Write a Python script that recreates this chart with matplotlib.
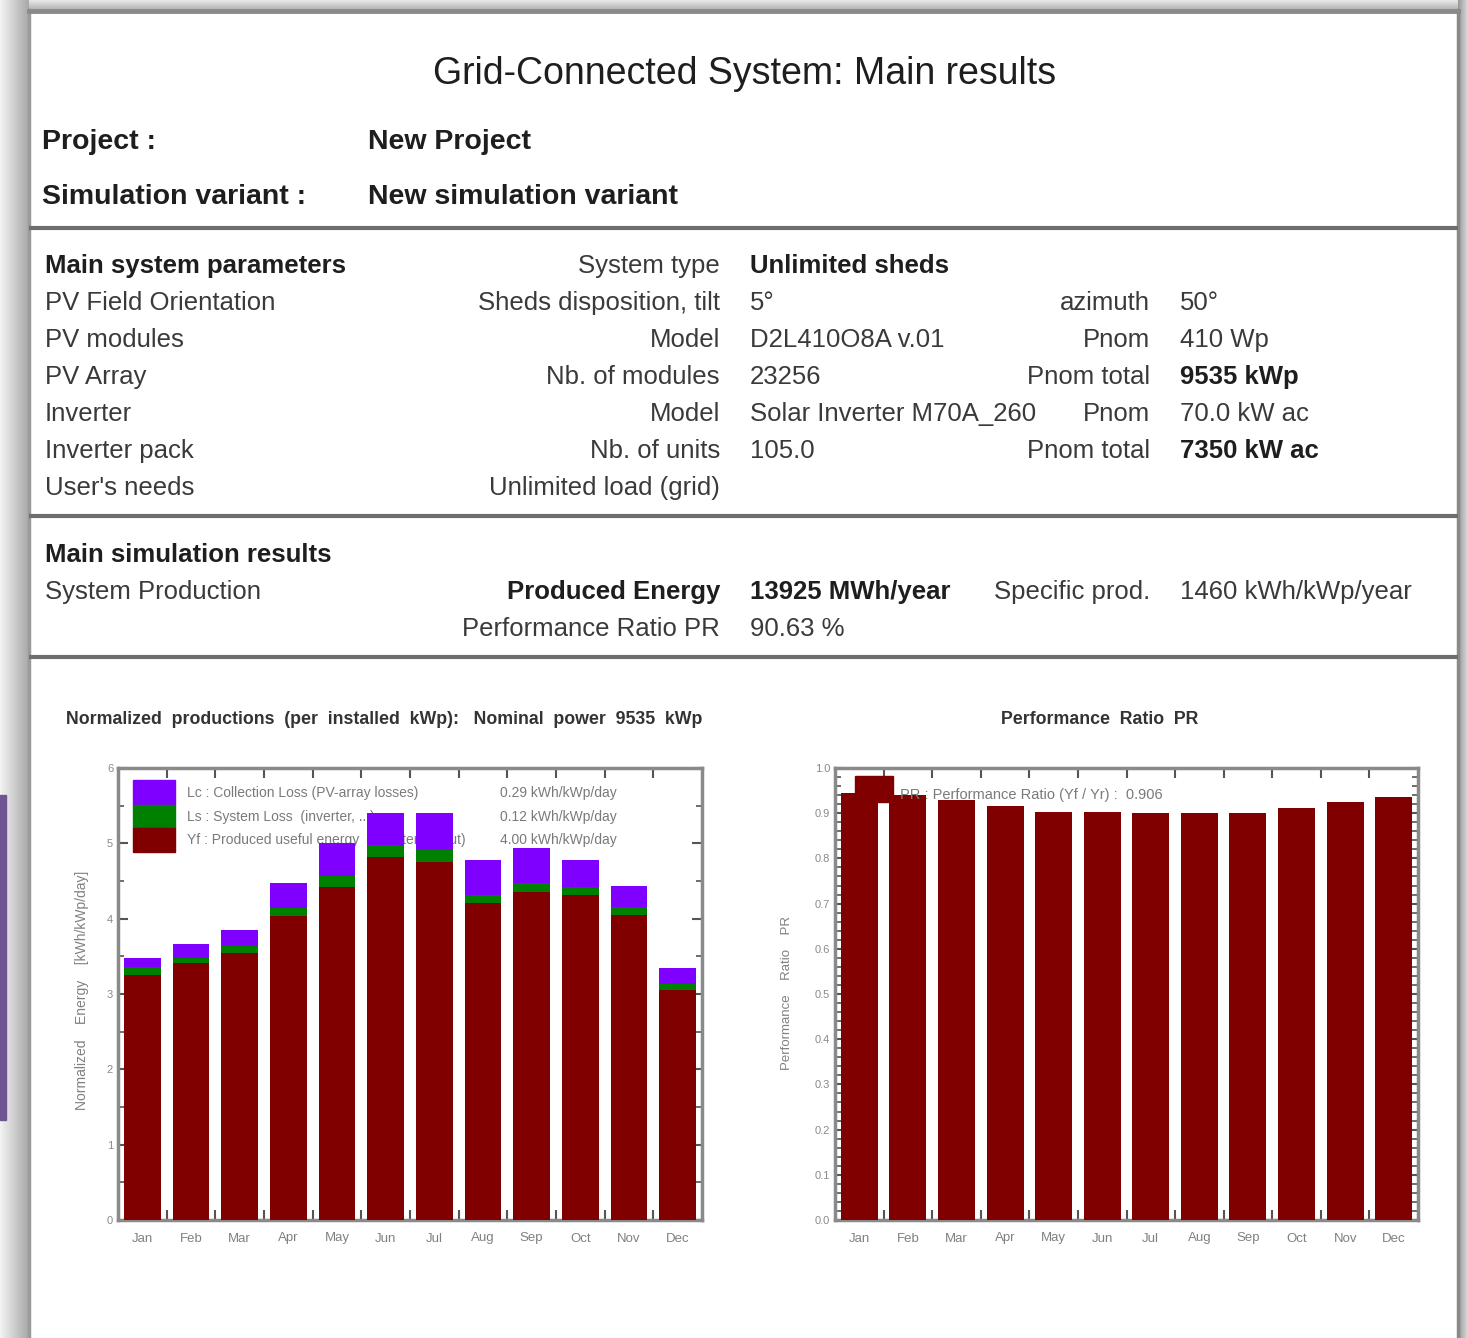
import matplotlib
matplotlib.use('Agg')
import matplotlib.pyplot as plt
import numpy as np
from matplotlib.patches import Rectangle
from matplotlib.ticker import MultipleLocator, FixedLocator

plt.rcParams['font.family'] = ['Liberation Sans', 'DejaVu Sans']

months = ['Jan', 'Feb', 'Mar', 'Apr', 'May', 'Jun', 'Jul', 'Aug', 'Sep', 'Oct', 'Nov', 'Dec']
yf = [3.25, 3.41, 3.55, 4.04, 4.42, 4.82, 4.75, 4.21, 4.36, 4.32, 4.05, 3.05]   # produced useful energy
ls = [0.11, 0.07, 0.09, 0.10, 0.15, 0.16, 0.16, 0.11, 0.12, 0.10, 0.11, 0.08]   # system loss
lc = [0.12, 0.19, 0.21, 0.34, 0.43, 0.42, 0.49, 0.46, 0.46, 0.36, 0.28, 0.22]   # collection loss
pr = [0.945, 0.940, 0.929, 0.916, 0.903, 0.903, 0.901, 0.901, 0.901, 0.912, 0.925, 0.936]

legend_left = ['Lc : Collection Loss (PV-array losses)',
               'Ls : System Loss  (inverter, ...)',
               'Yf : Produced useful energy  (inverter output)']
legend_left_vals = ['0.29 kWh/kWp/day', '0.12 kWh/kWp/day', '4.00 kWh/kWp/day']
legend_right = 'PR : Performance Ratio (Yf / Yr) :  0.906'

param_labels = ['', 'PV Field Orientation', 'PV modules', 'PV Array', 'Inverter', 'Inverter pack', "User's needs"]
param_keys = ['System type', 'Sheds disposition, tilt', 'Model', 'Nb. of modules', 'Model', 'Nb. of units',
              'Unlimited load (grid)']
param_vals = ['Unlimited sheds', '5°', 'D2L410O8A v.01', '23256', 'Solar Inverter M70A_260', '105.0', '']
param_keys2 = ['', 'azimuth', 'Pnom', 'Pnom total', 'Pnom', 'Pnom total', '']
param_vals2 = ['', '50°', '410 Wp', '9535 kWp', '70.0 kW ac', '7350 kW ac', '']
bold_vals = {'Unlimited sheds', '9535 kWp', '7350 kW ac'}

C_YF = '#800000'
C_LS = '#008000'
C_LC = '#8000ff'
TXT = '#3a3a3a'
DARK = '#1e1e1e'
FS = 18.5   # body text size

W, H = 1468, 1338
fig = plt.figure(figsize=(W / 100, H / 100), dpi=100)
fig.patch.set_facecolor('white')

# background axes in pixel coordinates
bg = fig.add_axes([0, 0, 1, 1])
bg.set_xlim(0, W)
bg.set_ylim(H, 0)
bg.axis('off')

# page shadow
grad = np.linspace(0.95, 0.66, 30).reshape(1, -1)
bg.imshow(grad, extent=(0, 29, H, 0), cmap='gray', vmin=0, vmax=1, aspect='auto', zorder=0)
grad_t = np.linspace(0.9, 0.7, 10).reshape(-1, 1)
bg.imshow(grad_t, extent=(29, W, 10, 0), cmap='gray', vmin=0, vmax=1, aspect='auto', zorder=0)
grad_r = np.linspace(0.6, 0.85, 10).reshape(1, -1)
bg.imshow(grad_r, extent=(1458, W, H, 0), cmap='gray', vmin=0, vmax=1, aspect='auto', zorder=0)
bg.add_patch(Rectangle((0, 795), 6, 325, color='#6f5592', zorder=1))

# page border
bg.plot([29, 29], [10, H], color='#9a9a9a', lw=2.5, zorder=2)
bg.plot([29, 1458], [11, 11], color='#8a8a8a', lw=3.5, zorder=2)
bg.plot([1458, 1458], [10, H], color='#8a8a8a', lw=2.5, zorder=2)
for yy in [228, 516, 657]:
    bg.plot([29, 1458], [yy, yy], color='#6e6e6e', lw=3, zorder=2, solid_capstyle='butt')

# header
bg.text(745, 74, 'Grid-Connected System: Main results', fontsize=27, ha='center', va='center', color=DARK)
bg.text(42, 142, 'Project :', fontsize=20.5, weight='bold', va='center', color=DARK)
bg.text(368, 142, 'New Project', fontsize=20.5, weight='bold', va='center', color=DARK)
bg.text(42, 197, 'Simulation variant :', fontsize=20.5, weight='bold', va='center', color=DARK)
bg.text(368, 197, 'New simulation variant', fontsize=20.5, weight='bold', va='center', color=DARK)

# system parameters
bg.text(45, 266, 'Main system parameters', fontsize=FS, weight='bold', va='center', color=DARK)
for i in range(len(param_keys)):
    y = 266 + 37 * i
    if param_labels[i]:
        bg.text(45, y, param_labels[i], fontsize=FS, va='center', color=TXT)
    bg.text(720, y, param_keys[i], fontsize=FS, va='center', ha='right', color=TXT)
    if param_vals[i]:
        bold = param_vals[i] in bold_vals
        bg.text(750, y, param_vals[i], fontsize=FS, va='center', color=DARK if bold else TXT,
                weight='bold' if bold else 'normal')
    if param_keys2[i]:
        bg.text(1150, y, param_keys2[i], fontsize=FS, va='center', ha='right', color=TXT)
    if param_vals2[i]:
        bold = param_vals2[i] in bold_vals
        bg.text(1180, y, param_vals2[i], fontsize=FS, va='center', color=DARK if bold else TXT,
                weight='bold' if bold else 'normal')

# simulation results
bg.text(45, 555, 'Main simulation results', fontsize=FS, weight='bold', va='center', color=DARK)
bg.text(45, 592, 'System Production', fontsize=FS, va='center', color=TXT)
bg.text(720, 592, 'Produced Energy', fontsize=FS, weight='bold', va='center', ha='right', color=DARK)
bg.text(750, 592, '13925 MWh/year', fontsize=FS, weight='bold', va='center', color=DARK)
bg.text(1150, 592, 'Specific prod.', fontsize=FS, va='center', ha='right', color=TXT)
bg.text(1180, 592, '1460 kWh/kWp/year', fontsize=FS, va='center', color=TXT)
bg.text(720, 629, 'Performance Ratio PR', fontsize=FS, va='center', ha='right', color=TXT)
bg.text(750, 629, '90.63 %', fontsize=FS, va='center', color=TXT)

# chart titles
bg.text(384, 719, 'Normalized  productions  (per  installed  kWp):   Nominal  power  9535  kWp',
        fontsize=12.8, weight='bold', ha='center', va='center', color='#333333')
bg.text(1100, 719, 'Performance  Ratio  PR', fontsize=12.8, weight='bold', ha='center', va='center',
        color='#333333')
bg.text(82, 990, 'Normalized    Energy    [kWh/kWp/day]', fontsize=10, rotation=90, ha='center', va='center',
        color='#808080')
bg.text(787, 993, 'Performance    Ratio    PR', fontsize=9.5, rotation=90, ha='center', va='center',
        color='#808080')


def px_axes(x0, y0, x1, y1):
    return fig.add_axes([x0 / W, 1 - y1 / H, (x1 - x0) / W, (y1 - y0) / H])


def style_axes(ax):
    for s in ax.spines.values():
        s.set_color('#8a8a8a')
        s.set_linewidth(2.5)
    ax.set_xlim(-0.5, 11.5)
    ax.set_xticks(range(12))
    ax.set_xticklabels(months)
    ax.xaxis.set_minor_locator(FixedLocator(np.arange(0.5, 11, 1)))
    ax.tick_params(axis='x', which='major', length=0, labelsize=9.5, labelcolor='#808080', pad=9)
    ax.tick_params(axis='x', which='minor', direction='in', length=7, width=1.5, color='#555555',
                   top=True, bottom=True)
    ax.tick_params(axis='y', which='both', direction='in', color='#555555', right=True,
                   labelsize=8, labelcolor='#8a8a8a')
    ax.tick_params(axis='y', which='major', length=7, width=1.5)
    ax.tick_params(axis='y', which='minor', length=4, width=1.2)


x = np.arange(12)

# left chart: normalized productions
ax1 = px_axes(118, 768, 702, 1220)
style_axes(ax1)
bottom_ls = np.array(yf)
bottom_lc = bottom_ls + np.array(ls)
ax1.bar(x, yf, width=0.76, color=C_YF, zorder=3)
ax1.bar(x, ls, width=0.76, bottom=bottom_ls, color=C_LS, zorder=3)
ax1.bar(x, lc, width=0.76, bottom=bottom_lc, color=C_LC, zorder=3)
ax1.set_ylim(0, 6)
ax1.yaxis.set_major_locator(MultipleLocator(1))
ax1.yaxis.set_minor_locator(MultipleLocator(0.5))
ax1.yaxis.set_major_formatter(matplotlib.ticker.FormatStrFormatter('%d'))

sw_cols = [C_LC, C_LS, C_YF]
sw_tops = [780, 805, 828, 852]
for i in range(3):
    ya = (1220 - sw_tops[i + 1]) / 452
    ha_ = (sw_tops[i + 1] - sw_tops[i]) / 452
    ax1.add_patch(Rectangle((15 / 584, ya), 42 / 584, ha_, transform=ax1.transAxes, color=sw_cols[i],
                            zorder=2))
    yc = (1220 - (sw_tops[i] + sw_tops[i + 1]) / 2) / 452
    ax1.text(69 / 584, yc, legend_left[i], transform=ax1.transAxes, fontsize=10, va='center',
             color='#7a7a7a', zorder=1)
    ax1.text(382 / 584, yc, legend_left_vals[i], transform=ax1.transAxes, fontsize=10, va='center',
             color='#7a7a7a', zorder=1)

# right chart: performance ratio
ax2 = px_axes(835, 768, 1418, 1220)
style_axes(ax2)
ax2.bar(x, pr, width=0.76, color=C_YF, zorder=3)
ax2.set_ylim(0, 1.0)
ax2.yaxis.set_major_locator(MultipleLocator(0.1))
ax2.yaxis.set_minor_locator(MultipleLocator(0.02))
ax2.yaxis.set_major_formatter(matplotlib.ticker.FormatStrFormatter('%.1f'))
ax2.add_patch(Rectangle((20 / 583, 0.925), 38 / 583, 0.057, transform=ax2.transAxes, color=C_YF, zorder=4))
ax2.text(65 / 583, 0.94, legend_right, transform=ax2.transAxes, fontsize=10.5, va='center',
         color='#7a7a7a', zorder=5)

fig.savefig('out.png', dpi=100)
